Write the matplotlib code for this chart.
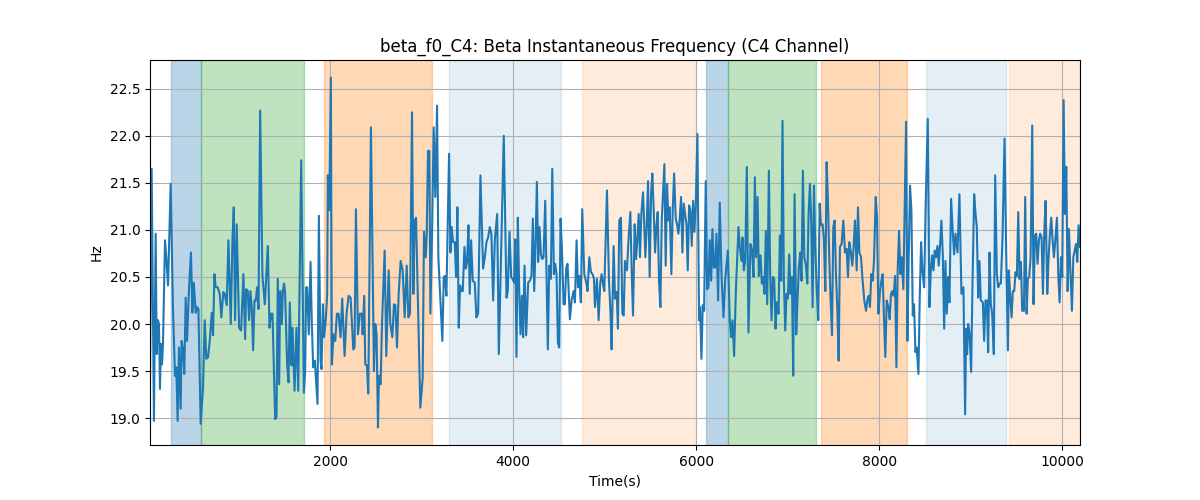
import matplotlib
matplotlib.use("Agg")
import matplotlib.pyplot as plt

# --- data ---
time_s = [
    30, 48, 73, 92, 103, 117, 128, 139, 150, 161, 172, 194, 208, 227, 256, 281, 303, 318, 332, 347,
    365, 376, 391, 405, 420, 435, 457, 478, 493, 508, 530, 544, 559, 584, 610, 628, 646, 665, 683, 705,
    719, 734, 748, 770, 792, 810, 832, 847, 869, 887, 913, 931, 946, 960, 978, 1004, 1026, 1051, 1070, 1081,
    1099, 1113, 1128, 1143, 1157, 1172, 1186, 1201, 1216, 1234, 1259, 1285,
    1318, 1336, 1354, 1369, 1398, 1413, 1427, 1442, 1453, 1471, 1482, 1496, 1507, 1529, 1544, 1558, 1577, 1588,
    1610, 1631, 1650, 1683, 1712, 1726, 1737, 1748, 1766, 1785, 1799, 1814, 1832, 1861, 1876, 1894, 1905, 1920,
    1934, 1953, 1967, 1974, 1989, 2007, 2018, 2036, 2055, 2073, 2091, 2113, 2131, 2157, 2179, 2201, 2223, 2252,
    2266, 2281, 2303, 2325, 2347, 2354, 2372, 2383, 2401, 2416, 2445, 2478, 2493, 2507, 2522, 2533, 2551, 2566,
    2595, 2613, 2639, 2657, 2679, 2697, 2712, 2730, 2748, 2770, 2792, 2814, 2836, 2854, 2872, 2894, 2909, 2923,
    2938, 2960, 2985, 3011, 3025, 3044, 3055, 3069, 3084, 3095, 3113, 3131, 3149, 3168, 3182, 3201, 3226, 3241,
    3255, 3270, 3299, 3314, 3328, 3343, 3361, 3376, 3390, 3405, 3420, 3434, 3449, 3467, 3482, 3496, 3511, 3525,
    3540, 3558, 3580, 3598, 3617, 3642, 3671, 3690, 3708, 3726, 3744, 3762, 3781, 3799, 3825, 3843,
    3897, 3927, 3941, 3960, 3978, 3992, 4011, 4022, 4036, 4051, 4065, 4080, 4095, 4109, 4124, 4142, 4164, 4182,
    4200, 4215, 4230, 4244, 4259, 4273, 4288, 4303, 4317, 4332, 4350, 4379, 4394, 4412, 4427, 4445, 4459, 4474,
    4489, 4503, 4518, 4532, 4551, 4565, 4580, 4594, 4620, 4638, 4660, 4675, 4693, 4708, 4722, 4740, 4755, 4777,
    4799, 4813, 4832, 4850, 4868, 4883, 4894, 4916, 4934, 4952, 4967, 4981, 4996, 5025, 5047, 5062, 5076, 5098, 5113,
    5131, 5145, 5160, 5178, 5193, 5208, 5222, 5244, 5262, 5281, 5295, 5310, 5328, 5343, 5357, 5372, 5386, 5401,
    5419, 5430, 5445, 5459, 5474, 5492, 5507, 5521, 5536, 5551, 5565, 5580, 5594, 5609, 5624, 5638, 5653, 5667,
    5682, 5696, 5711, 5729, 5744, 5759, 5777, 5791, 5806, 5821, 5835, 5850, 5864, 5879, 5894, 5908, 5923, 5937,
    5952, 5967, 5981, 5996, 6014, 6032, 6043, 6058, 6072, 6087, 6105, 6120, 6134, 6149, 6164, 6178, 6193, 6207,
    6222, 6240, 6258, 6277, 6299, 6317, 6346, 6368, 6382,
    6397, 6415, 6434, 6463, 6477, 6496, 6507, 6521, 6536, 6554, 6572, 6594, 6612, 6627, 6642, 6656, 6671, 6685,
    6704, 6718, 6733, 6747, 6762, 6777, 6795, 6809, 6824, 6839, 6853, 6868, 6882, 6901, 6915, 6930, 6944, 6959,
    6974, 6988, 7003, 7017, 7032, 7047, 7061, 7076, 7094, 7109, 7123, 7138, 7152, 7167, 7182, 7200, 7215, 7229,
    7244, 7258, 7273, 7288, 7302, 7317, 7335, 7350, 7364, 7382, 7397, 7412, 7426, 7441, 7455, 7470, 7485, 7499,
    7514, 7528, 7543, 7558, 7572, 7590, 7609, 7627, 7645, 7660,
    7674, 7689, 7707, 7722, 7736, 7755, 7769, 7784, 7802, 7820, 7838, 7857, 7871, 7886, 7900, 7915, 7930, 7944,
    7963, 7977, 7992, 8010, 8025, 8039, 8054, 8068, 8083, 8101, 8116, 8130, 8145, 8160, 8174, 8189, 8203, 8218,
    8233, 8247, 8265, 8280, 8295, 8309, 8324, 8338, 8353, 8368, 8382, 8397, 8411, 8430, 8444, 8459, 8473, 8492,
    8510, 8532, 8550, 8565, 8579, 8594, 8608, 8623, 8638, 8652, 8667, 8681, 8696, 8711, 8725, 8740, 8754, 8769,
    8787, 8805, 8820, 8835, 8857, 8878, 8900, 8922,
    8940, 8951, 8962, 8973, 8988, 9006, 9021, 9039, 9054, 9068, 9083, 9097, 9112, 9134, 9148, 9163, 9178, 9192,
    9207, 9221, 9236, 9254, 9269, 9287, 9302, 9316, 9331, 9349, 9371, 9389, 9408, 9418, 9433, 9448, 9462, 9477,
    9491, 9506, 9521, 9535, 9550, 9564, 9583, 9597, 9612, 9626, 9641, 9656, 9674, 9688, 9703, 9718, 9732, 9747,
    9761, 9776, 9791, 9805, 9820, 9838, 9853, 9867, 9882, 9896, 9911, 9926, 9944, 9958, 9973, 9988, 10002, 10017,
    10031, 10046, 10061, 10075, 10090, 10108, 10123, 10137, 10152, 10166, 10181, 10196,
]

freq_hz = [
    19.43, 21.65, 18.97, 20.96, 19.68, 20.04, 20.00, 19.31, 19.79, 19.57, 19.79, 20.89, 20.71, 20.41, 21.49, 20.18, 19.45, 19.54, 18.97, 19.75,
    19.10, 19.82, 19.72, 19.47, 20.28, 19.82, 20.39, 20.76, 20.12, 20.44, 20.12, 20.18, 20.16, 18.94, 19.33, 20.04, 19.63, 19.65, 19.82, 20.12,
    19.88, 20.53, 20.39, 20.39, 20.32, 20.07, 20.34, 20.32, 20.20, 20.89, 20.00, 20.89, 21.24, 20.04, 21.06, 19.96, 19.93, 20.53, 19.84, 20.37,
    20.35, 20.04, 20.35, 20.16, 19.72, 20.25, 20.25, 20.39, 20.16, 22.27, 20.51, 20.21,
    20.83, 19.96, 20.11, 20.11, 18.99, 19.01, 20.48, 19.36, 20.35, 20.00, 20.35, 20.43, 20.32, 19.57, 19.38, 20.23, 19.56, 19.96,
    19.29, 19.96, 19.29, 21.74, 19.27, 19.50, 20.39, 20.39, 19.89, 20.66, 20.00, 19.54, 19.61, 19.15, 21.15, 19.61, 19.52, 20.21,
    19.86, 20.07, 20.32, 21.58, 21.21, 22.62, 19.57, 19.89, 19.82, 20.11, 20.11, 19.86, 20.27, 19.66, 20.11, 20.30, 20.28, 19.73,
    19.75, 21.22, 19.89, 20.11, 20.11, 19.89, 20.30, 19.57, 19.56, 19.26, 22.09, 19.50, 20.00, 19.89, 18.90, 19.45, 19.36, 20.00,
    20.78, 19.66, 20.57, 20.00, 19.86, 20.21, 20.20, 19.75, 20.32, 20.67, 20.57, 20.07, 20.62, 20.07, 20.11, 22.25, 20.32, 21.10,
    21.13, 20.18, 19.11, 19.43, 20.98, 20.71, 20.96, 21.84, 21.84, 20.11, 20.96, 22.09, 21.35, 22.32, 20.71, 20.32, 19.82, 20.50,
    20.51, 20.30, 21.81, 20.76, 21.03, 20.87, 20.87, 20.50, 21.24, 19.96, 20.41, 20.35, 20.35, 20.82, 20.59, 20.66, 21.05, 20.32,
    20.89, 20.46, 20.44, 20.07, 20.11, 21.58, 20.59, 20.71, 20.87, 20.92, 21.03, 20.96, 20.25, 20.89, 21.17, 19.68,
    22.00, 20.28, 20.35, 20.98, 20.50, 20.48, 20.44, 20.90, 19.65, 21.13, 20.39, 19.89, 20.30, 19.86, 20.62, 19.88, 20.44, 20.46,
    20.51, 21.12, 20.35, 20.83, 21.51, 20.66, 21.03, 20.74, 20.69, 20.71, 21.31, 19.73, 20.62, 20.48, 21.65, 20.53, 20.64, 20.53,
    19.80, 19.75, 21.12, 20.82, 20.21, 20.21, 20.60, 20.64, 20.05, 20.25, 20.35, 20.23, 20.89, 20.39, 20.51, 20.23, 21.22, 20.53,
    20.44, 20.35, 20.71, 20.55, 20.53, 20.48, 20.18, 20.48, 20.04, 20.44, 20.53, 20.43, 20.35, 21.42, 20.46, 20.16, 19.73, 20.83, 20.27,
    20.34, 19.95, 21.10, 21.13, 20.11, 20.09, 20.67, 20.57, 20.92, 21.19, 20.57, 20.09, 21.06, 20.69, 20.89, 21.17, 20.71, 21.17,
    21.40, 21.13, 20.71, 21.03, 21.52, 20.50, 21.38, 21.60, 21.21, 20.76, 21.03, 21.19, 20.46, 20.18, 21.10, 21.38, 21.70, 20.62,
    21.49, 21.10, 21.24, 20.53, 21.21, 21.60, 21.12, 21.06, 20.96, 21.13, 21.35, 20.76, 21.28, 21.17, 21.06, 20.57, 21.26, 21.21,
    20.83, 21.31, 20.98, 21.28, 22.02, 20.04, 20.18, 19.63, 20.20, 20.14, 21.52, 20.37, 20.39, 20.89, 20.46, 21.01, 20.60, 20.60,
    20.96, 20.25, 21.29, 20.53, 20.07, 20.46, 20.78, 20.04, 19.86,
    20.04, 19.66, 20.35, 21.03, 20.82, 20.67, 20.92, 20.57, 20.67, 21.67, 19.91, 20.85, 20.78, 20.50, 21.56, 20.71, 21.35, 20.51,
    20.73, 20.43, 20.50, 20.32, 20.99, 20.21, 21.63, 20.53, 20.04, 20.50, 20.48, 19.95, 20.23, 20.11, 20.94, 20.46, 22.16, 20.46,
    19.93, 20.32, 20.27, 20.74, 20.32, 20.50, 19.45, 21.38, 19.89, 20.28, 20.60, 20.76, 20.46, 21.63, 20.71, 20.62, 20.43, 21.17,
    21.49, 21.10, 20.18, 21.47, 20.82, 20.39, 20.04, 21.28, 21.05, 21.06, 20.90, 20.35, 21.72, 21.31, 20.71, 20.25, 19.88, 21.03,
    21.10, 20.53, 20.18, 19.61, 20.82, 20.85, 21.10, 20.76, 20.80, 20.50,
    20.87, 20.78, 20.62, 20.83, 21.10, 20.57, 21.24, 20.76, 20.71, 20.46, 20.25, 20.14, 20.25, 20.30, 20.18, 20.53, 20.46, 20.67,
    21.35, 21.13, 20.11, 20.35, 20.46, 20.53, 20.04, 19.65, 20.25, 20.18, 20.05, 20.32, 20.35, 20.30, 20.51, 19.54, 20.57, 20.99,
    20.53, 20.71, 20.37, 21.28, 22.15, 19.82, 20.74, 21.47, 21.21, 20.09, 20.21, 19.70, 19.75, 19.47, 20.28, 20.87, 20.57, 20.39,
    21.31, 22.18, 20.18, 20.57, 20.73, 20.57, 20.78, 20.71, 20.83, 20.62, 20.85, 21.10, 20.74, 19.95, 20.67, 20.11, 20.50, 20.23,
    21.33, 20.98, 20.74, 20.96, 20.76, 21.38, 20.32, 20.39,
    19.04, 19.95, 19.68, 20.00, 19.91, 19.49, 20.43, 21.38, 21.17, 21.03, 20.28, 20.67, 20.25, 20.23, 19.82, 20.25, 20.25, 19.70,
    20.76, 20.21, 20.11, 19.68, 21.58, 20.53, 20.39, 20.43, 20.43, 20.92, 21.97, 20.78, 19.72, 20.57, 20.30, 20.07, 20.35, 20.35,
    20.55, 20.51, 21.19, 20.48, 20.66, 20.14, 20.14, 21.35, 20.11, 20.48, 20.50, 20.71, 22.11, 20.21, 20.94, 20.96, 20.64, 20.89,
    20.96, 20.92, 20.32, 20.96, 21.31, 20.32, 20.71, 20.96, 21.13, 20.89, 20.71, 20.89, 21.13, 20.53, 20.23, 20.71, 20.50, 22.38,
    21.17, 21.67, 20.35, 21.01, 20.59, 20.14, 20.71, 20.78, 20.85, 20.66, 21.05, 20.82,
]

span_start = [259, 584, 1934, 3303, 4748, 6105, 6350, 7364, 8514, 9419]
span_end = [584, 1712, 3113, 4525, 5999, 6350, 7309, 8306, 9382, 10196]
span_color = ["tab:blue", "tab:green", "tab:orange", "tab:blue", "tab:orange",
              "tab:blue", "tab:green", "tab:orange", "tab:blue", "tab:orange"]
span_alpha = [0.3, 0.3, 0.3, 0.12, 0.15, 0.3, 0.3, 0.3, 0.12, 0.15]

title = "beta_f0_C4: Beta Instantaneous Frequency (C4 Channel)"

fig, ax = plt.subplots(figsize=(12, 5), dpi=100)
for s, e, c, a in zip(span_start, span_end, span_color, span_alpha):
    ax.axvspan(s, e, color=c, alpha=a, linewidth=1)
ax.plot(time_s, freq_hz, color="tab:blue", linewidth=1.5)
ax.set_xlim(min(time_s), max(time_s))
ax.set_title(title)
ax.set_xlabel("Time(s)")
ax.set_ylabel("Hz")
ax.grid(True)
fig.savefig("out.png", dpi=100)
